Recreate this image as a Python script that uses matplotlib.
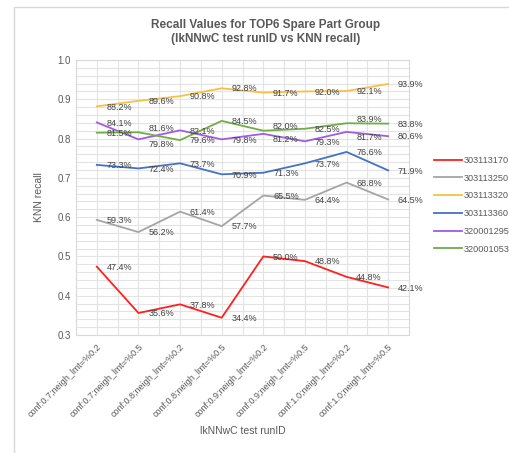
import numpy as np
import matplotlib
matplotlib.use("Agg")
import matplotlib.pyplot as plt
from matplotlib.patches import Rectangle
from matplotlib.ticker import MultipleLocator, FormatStrFormatter

plt.rcParams["font.family"] = ["Liberation Sans", "DejaVu Sans"]

run_ids = ["conf:0.7;neigh_lmt=%0.2", "conf:0.7;neigh_lmt=%0.5",
           "conf:0.8;neigh_lmt=%0.2", "conf:0.8;neigh_lmt=%0.5",
           "conf:0.9;neigh_lmt=%0.2", "conf:0.9;neigh_lmt=%0.5",
           "conf:1.0;neigh_lmt=%0.2", "conf:1.0;neigh_lmt=%0.5"]

groups = ["303113170", "303113250", "303113320", "303113360", "320001295", "320001053"]
r_170 = [47.4, 35.6, 37.8, 34.4, 50.0, 48.8, 44.8, 42.1]
r_250 = [59.3, 56.2, 61.4, 57.7, 65.5, 64.4, 68.8, 64.5]
r_320 = [88.2, 89.6, 90.8, 92.8, 91.7, 92.0, 92.1, 93.9]
r_360 = [73.3, 72.4, 73.7, 70.9, 71.3, 73.7, 76.6, 71.9]
r_295 = [84.1, 79.8, 82.1, 79.8, 81.2, 79.3, 81.7, 80.6]
r_053 = [81.5, 81.6, 79.6, 84.5, 82.0, 82.5, 83.9, 83.8]
series = [r_170, r_250, r_320, r_360, r_295, r_053]
colors = ["#FF2020", "#A5A5A5", "#F5C242", "#4472C4", "#9E5CE0", "#70AD47"]

txt = "#595959"
fig = plt.figure(figsize=(5.1, 4.53), dpi=100)
fig.patches.append(Rectangle((14 / 510, -0.1), 1.2, 1 - 7 / 453 + 0.1,
                             transform=fig.transFigure, fill=False,
                             edgecolor="#D9D9D9", lw=1))
ax = fig.add_axes([76 / 510, 1 - 335 / 453, 333 / 510, 275 / 453])

x = np.arange(len(run_ids))
for name, vals, c in zip(groups, series, colors):
    v = np.array(vals) / 100
    ax.plot(x, v, color=c, lw=1.3, label=name)

# labels to the right of each point; close pairs pushed apart a little
for i, vals in enumerate(series):
    for j, val in enumerate(vals):
        dy = 0
        for k, other in enumerate(series):
            if k != i and abs(other[j] - val) < 2.5:
                dy = 3.5 if val > other[j] else -3.5
        ax.annotate(f"{val:.1f}%", (x[j], val / 100), xytext=(7, dy - 0.5),
                    textcoords="offset points", ha="left", va="center",
                    fontsize=6.5, color="#404040", annotation_clip=False)

ax.set_xlim(-0.5, len(run_ids) - 0.5)
ax.set_ylim(0.3, 1.0)
ax.yaxis.set_major_locator(MultipleLocator(0.1))
ax.yaxis.set_minor_locator(MultipleLocator(0.02))
ax.yaxis.set_major_formatter(FormatStrFormatter("%.1f"))
ax.set_xticks(x)
ax.set_xticks(x - 0.5, minor=True)
ax.set_xticklabels(run_ids, rotation=45, ha="right", rotation_mode="anchor",
                   fontsize=6.5, color=txt)
ax.tick_params(axis="y", labelsize=7, colors=txt)
ax.tick_params(which="both", length=0)
ax.tick_params(axis="x", pad=5)
ax.grid(True, which="both", color="#E3E3E3", lw=0.8)
ax.set_axisbelow(True)
for s in ax.spines.values():
    s.set_color("#D9D9D9")

ax.set_xlabel("lkNNwC test runID", fontsize=7.5, color=txt, labelpad=5)
ax.set_ylabel("KNN recall", fontsize=7.5, color=txt, labelpad=10)

fig.text(0.52, 0.929, "Recall Values for TOP6 Spare Part Group\n(lkNNwC test runID vs KNN recall)",
         ha="center", va="center", fontsize=8.5, fontweight="bold", color=txt,
         linespacing=1.15)

ax.legend(loc="upper left", bbox_to_anchor=(434 / 510, 1 - 156 / 453),
          bbox_transform=fig.transFigure, frameon=False, fontsize=6.6,
          labelcolor=txt, handlelength=3.1, handletextpad=0.15,
          labelspacing=0.95, borderaxespad=0, borderpad=0)

fig.savefig("out.png", dpi=100)
